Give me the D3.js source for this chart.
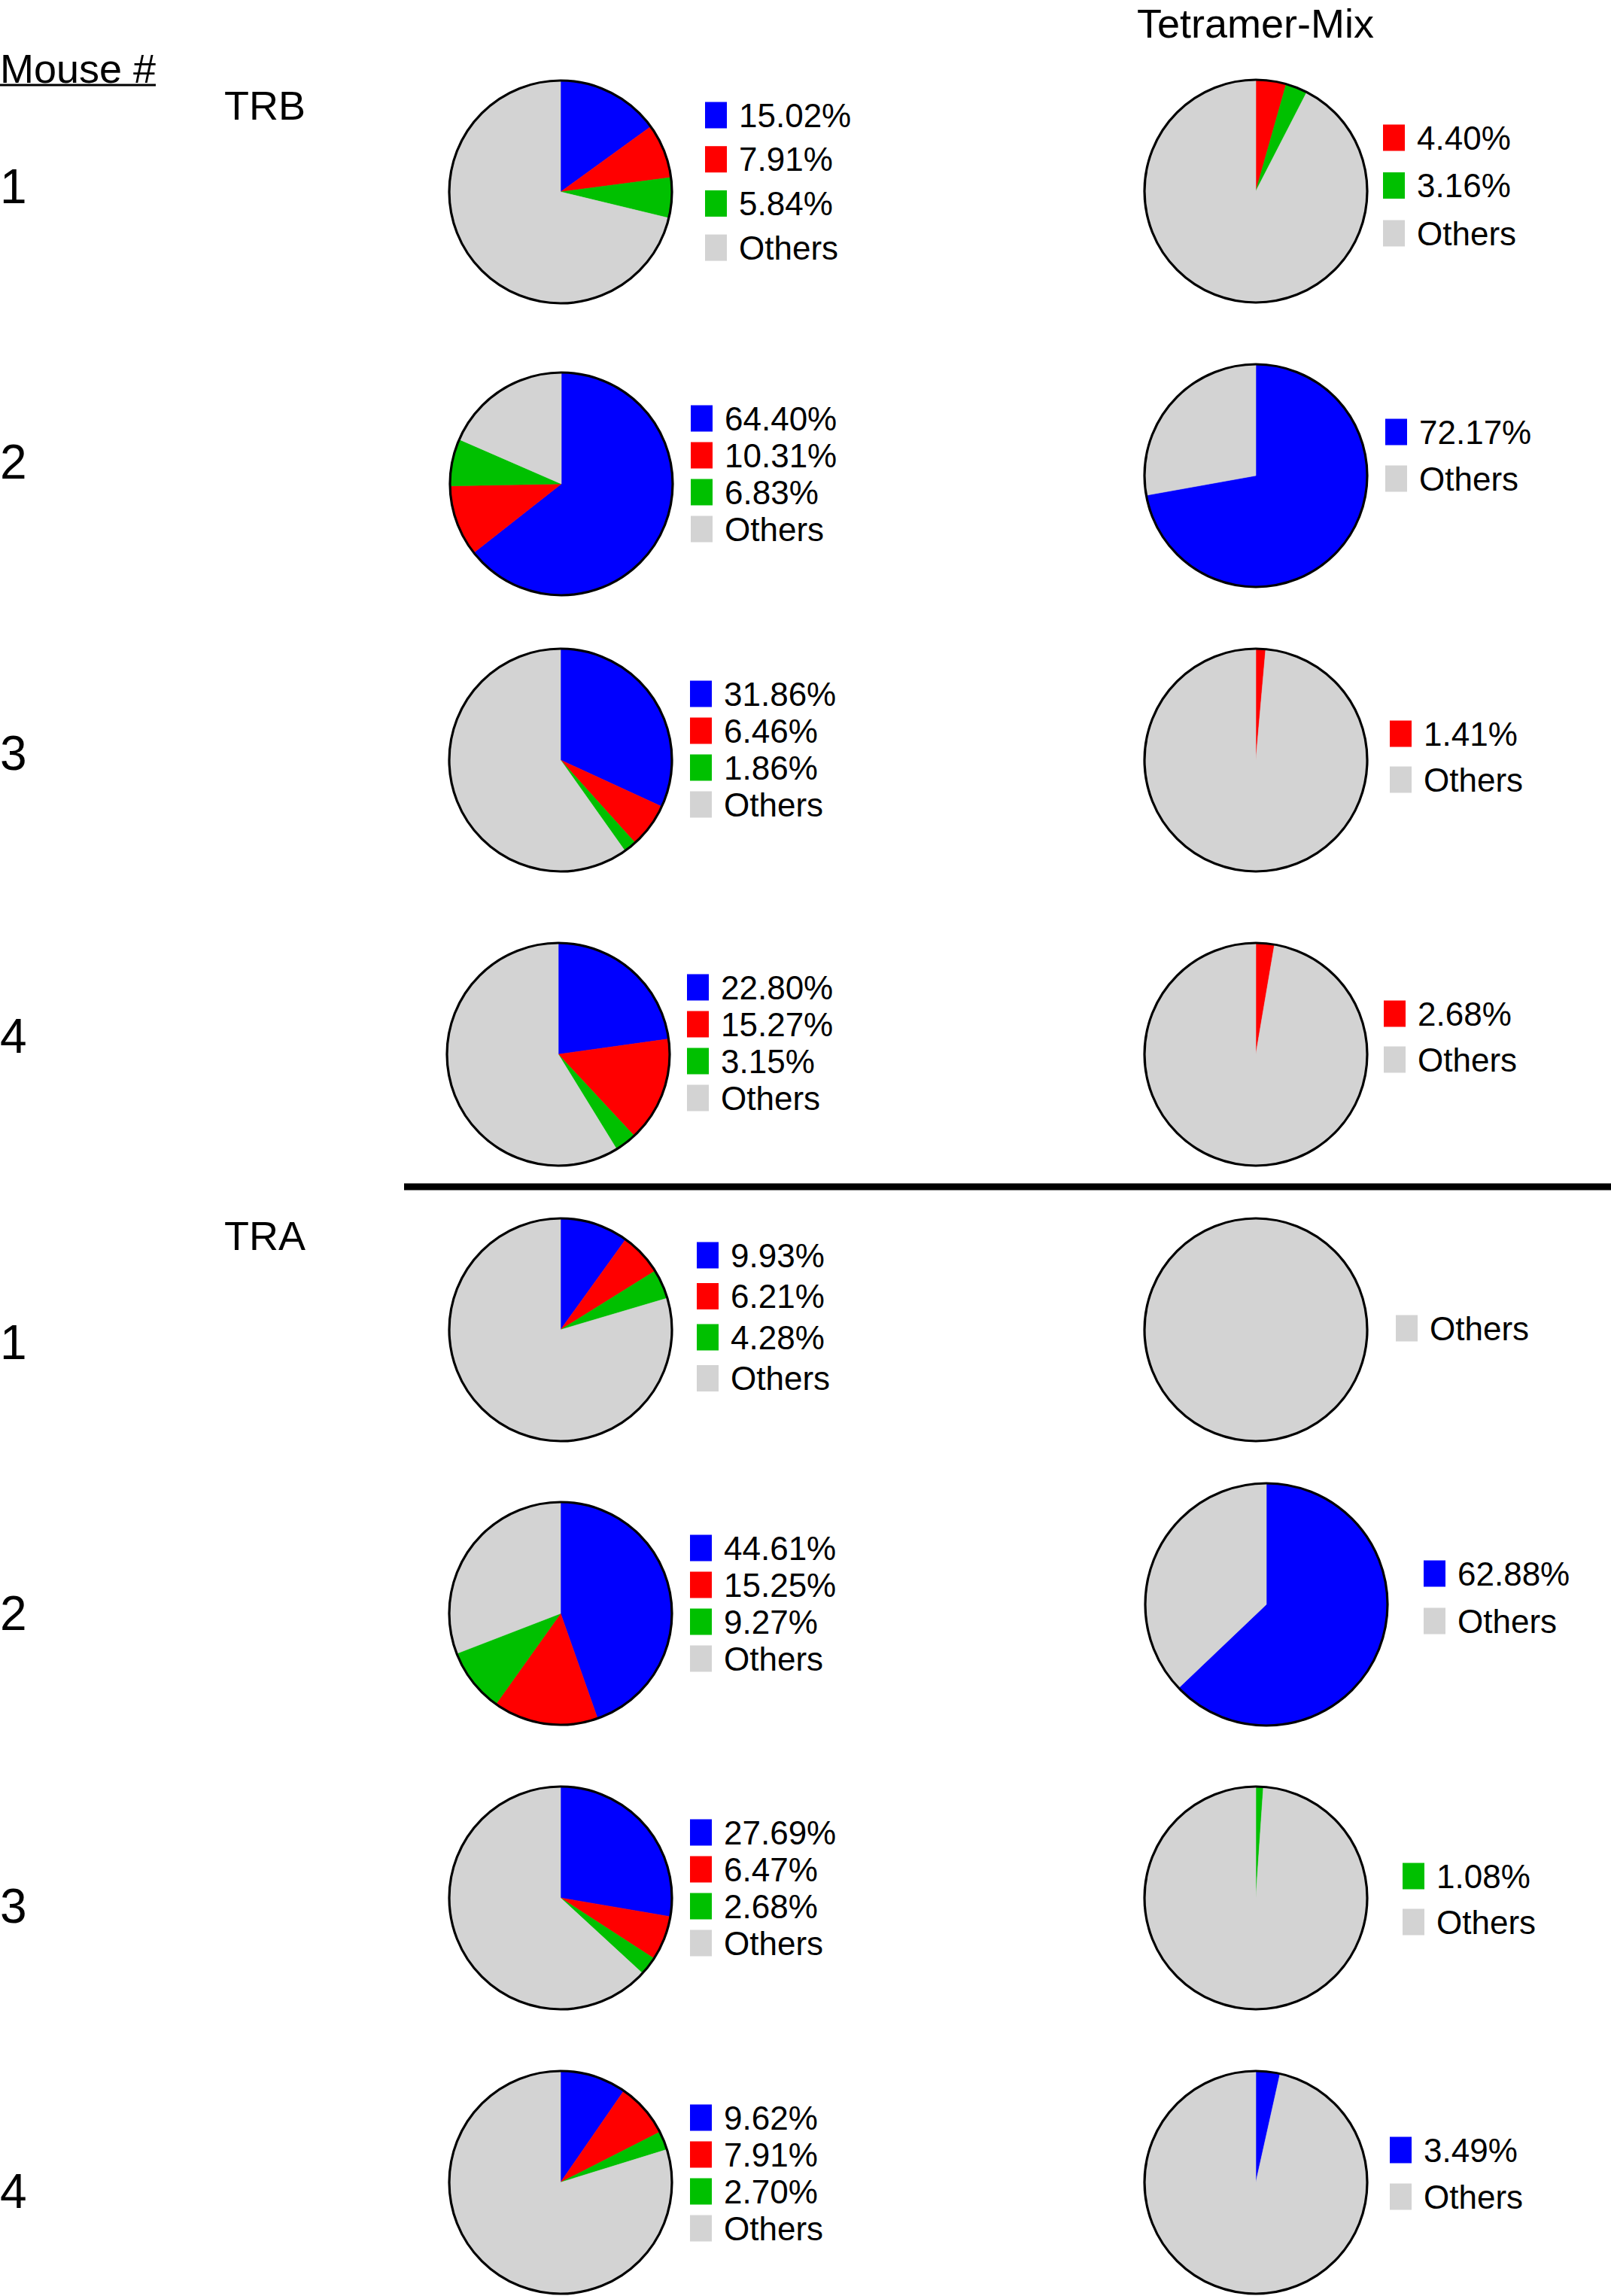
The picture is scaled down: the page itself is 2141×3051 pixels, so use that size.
<!DOCTYPE html>
<html>
<head>
<meta charset="utf-8">
<script src="https://cdn.jsdelivr.net/npm/d3@7/dist/d3.min.js"></script>
<style>
  html, body { margin: 0; padding: 0; background: #fff; }
  text { font-family: "Liberation Sans", Arial, Helvetica, sans-serif; fill: #000; }
</style>
</head>
<body>
<svg id="chart" width="2141" height="3051"></svg>
<script>
// ---------- DATA ----------
const sliceKeys = ["blue", "red", "green"];
const sliceColors = ["#0000FF", "#FF0000", "#00C000"];
const othersColor = "#D3D3D3";
const mouseLabels = ["1", "2", "3", "4"];
const sectionLabels = ["TRB", "TRA"];
const columnTitle = "Tetramer-Mix";

// percentages per mouse: [blue, red, green]; null = not present
const trbLeft  = [[15.02, 7.91, 5.84], [64.40, 10.31, 6.83], [31.86, 6.46, 1.86], [22.80, 15.27, 3.15]];
const trbRight = [[null, 4.40, 3.16], [72.17, null, null], [null, 1.41, null], [null, 2.68, null]];
const traLeft  = [[9.93, 6.21, 4.28], [44.61, 15.25, 9.27], [27.69, 6.47, 2.68], [9.62, 7.91, 2.70]];
const traRight = [[null, null, null], [62.88, null, null], [null, null, 1.08], [3.49, null, null]];

// ---------- LAYOUT ----------
// pie centres / radius [cx, cy, r], in reading order (TRB rows 1-4, TRA rows 1-4)
const leftPies = [[745,255,148],[746,643,148],[745,1010,148],[742,1401,148],
                  [745,1767,148],[745,2144,148],[745,2522,148],[745,2900,148]];
const rightPies = [[1669,254,148],[1669,632,148],[1669,1010,148],[1669,1401,148],
                   [1669,1767,148],[1683,2132,161],[1669,2522,148],[1669,2900,148]];
// legend [x, firstRowCenterY, rowStep]
const leftLegends = [[937,153,58.7],[918,556,49],[917,922,49],[913,1312,49],
                     [926,1668,54.5],[917,2057,49],[917,2435,49],[917,2814,49]];
const rightLegends = [[1838,183,63.5],[1841,574,62],[1847,975,61],[1839,1347,61],
                      [1855,1765,62],[1892,2091,63],[1864,2493,61],[1847,2857,62]];
const rowLabelY = [247, 613, 1000, 1376, 1783, 2143, 2532, 2911];

const svg = d3.select("#chart");
const pie = d3.pie().sort(null).value(d => d.value).startAngle(0).endAngle(2 * Math.PI);

function buildSlices(vals) {
  const items = [];
  let sum = 0;
  vals.forEach((v, i) => {
    if (v !== null && v !== undefined) {
      items.push({ key: sliceKeys[i], value: v, color: sliceColors[i], label: v.toFixed(2) + "%" });
      sum += v;
    }
  });
  items.push({ key: "others", value: Math.max(0, 100 - sum), color: othersColor, label: "Others" });
  return items;
}

function drawPie(vals, pos, leg) {
  const [cx, cy, r] = pos;
  const items = buildSlices(vals);
  const arc = d3.arc().innerRadius(0).outerRadius(r);
  const g = svg.append("g").attr("transform", `translate(${cx},${cy})`);
  g.selectAll("path").data(pie(items)).join("path")
    .attr("d", arc)
    .attr("fill", d => d.data.color)
    .attr("stroke", d => d.data.color)
    .attr("stroke-width", 0.6);
  g.append("circle").attr("r", r).attr("fill", "none").attr("stroke", "#000").attr("stroke-width", 3.2);

  const [lx, ly, step] = leg;
  const lg = svg.append("g").attr("transform", `translate(${lx},${ly})`);
  const rows = lg.selectAll("g").data(items).join("g")
    .attr("transform", (d, i) => `translate(0,${i * step})`);
  rows.append("rect").attr("x", 0).attr("y", -17.5).attr("width", 29).attr("height", 35)
    .attr("fill", d => d.color);
  rows.append("text").attr("x", 45).attr("y", 15.5)
    .attr("font-size", 44).text(d => d.label);
}

const leftData = trbLeft.concat(traLeft);
const rightData = trbRight.concat(traRight);
leftData.forEach((v, i) => drawPie(v, leftPies[i], leftLegends[i]));
rightData.forEach((v, i) => drawPie(v, rightPies[i], rightLegends[i]));

// row labels
rowLabelY.forEach((y, i) => {
  svg.append("text").attr("x", 0).attr("y", y + 23).attr("font-size", 64)
    .text(mouseLabels[i % 4]);
});

// headers
svg.append("text").attr("x", 0).attr("y", 110).attr("font-size", 54).text("Mouse #");
svg.append("line").attr("x1", 0).attr("x2", 207).attr("y1", 113).attr("y2", 113)
  .attr("stroke", "#000").attr("stroke-width", 3);
svg.append("text").attr("x", 298).attr("y", 159).attr("font-size", 54).text(sectionLabels[0]);
svg.append("text").attr("x", 298).attr("y", 1661).attr("font-size", 54).text(sectionLabels[1]);
svg.append("text").attr("x", 1511).attr("y", 50).attr("font-size", 54).text(columnTitle);

// separator line
svg.append("line").attr("x1", 537).attr("x2", 2141).attr("y1", 1577).attr("y2", 1577)
  .attr("stroke", "#000").attr("stroke-width", 9);
</script>
</body>
</html>
